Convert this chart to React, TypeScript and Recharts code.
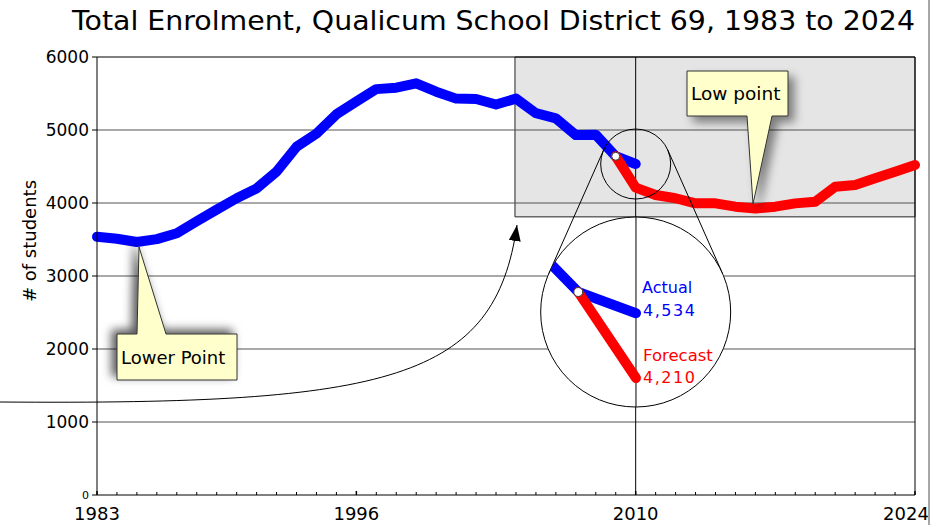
import React from "react";
import {
  ComposedChart,
  LineChart,
  Line,
  XAxis,
  YAxis,
  ReferenceLine,
  ReferenceArea,
  ReferenceDot,
} from "recharts";

// Enrolment data
const years = [
  1983, 1984, 1985, 1986, 1987, 1988, 1989, 1990, 1991, 1992, 1993, 1994, 1995, 1996,
  1997, 1998, 1999, 2000, 2001, 2002, 2003, 2004, 2005, 2006, 2007, 2008, 2009, 2010,
  2011, 2012, 2013, 2014, 2015, 2016, 2017, 2018, 2019, 2020, 2021, 2022, 2023, 2024,
];
// actual: 1983 - 2010
const actual = [
  3538, 3510, 3465, 3505, 3585, 3750, 3910, 4065, 4200, 4430, 4770, 4950, 5215, 5390,
  5560, 5580, 5640, 5525, 5430, 5425, 5350, 5430, 5230, 5160, 4930, 4935, 4640, 4534,
];
// forecast: 2009 - 2024
const forecastYears = [
  2009, 2010, 2011, 2012, 2013, 2014, 2015, 2016, 2017, 2018, 2019, 2020, 2021, 2022, 2023, 2024,
];
const forecast = [
  4640, 4210, 4110, 4065, 3995, 3995, 3950, 3925, 3950, 3995, 4018, 4224, 4247, 4338, 4429, 4520,
];
const xLabels = [1983, 1996, 2010, 2024];
const yTicks = [0, 1000, 2000, 3000, 4000, 5000, 6000];

const data = years.map((year, i) => {
  const fi = forecastYears.indexOf(year);
  return {
    year,
    actual: i < actual.length ? actual[i] : null,
    forecast: fi >= 0 ? forecast[fi] : null,
  };
});
const insetData = data.filter((d) => d.year >= 2008 && d.year <= 2010);

const FONT = "DejaVu Sans";
const W = 936;
const H = 525;
const PL = 97;
const PR = 915;
const PT = 57;
const PB = 495;
const px = (yr: number) => PL + ((yr - 1983) * (PR - PL)) / 41;
const py = (v: number) => PB - (v * (PB - PT)) / 6000;

const XTick = (props: any) => {
  const { x, y, payload } = props;
  const v = payload.value;
  const major = xLabels.includes(v);
  return (
    <g>
      <line x1={x} x2={x} y1={y} y2={y - (major ? 4 : 3)} stroke="#000" strokeWidth={major ? 1.5 : 1} />
      {major && (
        <text x={v === 2024 ? x - 9 : x} y={y + 25} textAnchor="middle" fontSize={18} fontFamily={FONT} fill="#000">
          {v}
        </text>
      )}
    </g>
  );
};

const YTick = (props: any) => {
  const { x, y, payload } = props;
  const fs = payload.value === 0 ? 11 : 17;
  return (
    <text x={x} y={y} dy={fs * 0.36} textAnchor="end" fontSize={fs} fontFamily={FONT} fill="#000">
      {payload.value}
    </text>
  );
};

const App = () => {
  // zoom circles
  const sc = { x: px(2010), y: py(actual[actual.length - 1]), r: 35 };
  const bc = { x: px(2010), y: 312, r: 95 };
  const d = bc.y - sc.y;
  const s = (bc.r - sc.r) / d;
  const c = Math.sqrt(1 - s * s);
  const tangents = [-1, 1].map((k) => ({
    x1: sc.x + k * sc.r * c,
    y1: sc.y - sc.r * s,
    x2: bc.x + k * bc.r * c,
    y2: bc.y - bc.r * s,
  }));

  return (
    <div style={{ position: "absolute", left: 0, top: 0, width: W, height: H, background: "#fff" }}>
      <ComposedChart width={W} height={H} data={data} margin={{ top: PT, right: W - PR, bottom: 0, left: PL - 60 }}>
        <ReferenceArea x1={2003.95} x2={2024} y1={3810} y2={6000} fill="#e5e5e5" fillOpacity={1} stroke="#222" strokeWidth={1} />
        {yTicks
          .filter((t) => t > 0)
          .map((t) => (
            <ReferenceLine key={t} y={t} stroke={t === 6000 ? "#000" : "#555"} strokeWidth={t === 6000 ? 1 : 1.2} />
          ))}
        <XAxis
          dataKey="year"
          type="number"
          domain={[1983, 2024]}
          ticks={years}
          interval={0}
          tickLine={false}
          tickSize={0}
          tickMargin={0}
          height={30}
          tick={<XTick />}
          stroke="#000"
        />
        <YAxis
          domain={[0, 6000]}
          ticks={yTicks}
          interval={0}
          width={60}
          tickSize={5}
          tickMargin={3}
          tick={<YTick />}
          stroke="#000"
          tickLine={{ stroke: "#000" }}
        />
        <ReferenceLine x={2010} stroke="#000" />
        <ReferenceLine x={2024} stroke="#000" />
        <Line
          dataKey="actual"
          type="linear"
          stroke="#0000ff"
          strokeWidth={10}
          strokeLinecap="round"
          strokeLinejoin="round"
          dot={false}
          isAnimationActive={false}
        />
        <Line
          dataKey="forecast"
          type="linear"
          stroke="#ff0000"
          strokeWidth={10}
          strokeLinecap="round"
          strokeLinejoin="round"
          dot={false}
          isAnimationActive={false}
        />
        <ReferenceDot x={forecastYears[0]} y={forecast[0]} r={4} fill="#fff" stroke="#333" strokeWidth={1} />
      </ComposedChart>

      <svg width={W} height={H} style={{ position: "absolute", left: 0, top: 0, pointerEvents: "none" }}>
        <defs>
          <filter id="shadowL" x="-40%" y="-40%" width="180%" height="180%">
            <feDropShadow dx={-5} dy={-4} stdDeviation={5} floodColor="#000" floodOpacity={0.65} />
          </filter>
          <filter id="shadowR" x="-40%" y="-40%" width="180%" height="180%">
            <feDropShadow dx={6} dy={6} stdDeviation={5} floodColor="#000" floodOpacity={0.45} />
          </filter>
          <marker id="arrowhead" markerUnits="userSpaceOnUse" markerWidth={16} markerHeight={12} refX={16} refY={6} orient="auto">
            <path d="M0,0 L16,6 L0,12 Z" fill="#000" />
          </marker>
        </defs>

        <text x={72} y={30} fontSize={27} fontFamily={FONT} textLength={843} lengthAdjust="spacingAndGlyphs" fill="#000">
          Total Enrolment, Qualicum School District 69, 1983 to 2024
        </text>
        <text x={0} y={0} transform="translate(36,241) rotate(-90)" textAnchor="middle" fontSize={18} fontFamily={FONT} fill="#000">
          # of students
        </text>
        <line x1={929} x2={929} y1={0} y2={H} stroke="#888" strokeWidth={1.5} />

        <path d="M0,402 C 390,405 495,380 517,225" fill="none" stroke="#000" strokeWidth={1} markerEnd="url(#arrowhead)" />

        {tangents.map((t, i) => (
          <line key={i} x1={t.x1} y1={t.y1} x2={t.x2} y2={t.y2} stroke="#000" strokeWidth={1} />
        ))}
        <circle cx={sc.x} cy={sc.y} r={sc.r} fill="none" stroke="#000" strokeWidth={1} />
        <circle cx={bc.x} cy={bc.y} r={bc.r} fill="#fff" stroke="#000" strokeWidth={1} />

        <text x={642} y={293} fontSize={16} fontFamily={FONT} fill="#0000ff">Actual</text>
        <text x={643} y={316} fontSize={16} fontFamily={FONT} fill="#0000ff" letterSpacing={1.5}>4,534</text>
        <text x={643} y={361} fontSize={16.5} fontFamily={FONT} fill="#ff0000">Forecast</text>
        <text x={643} y={383} fontSize={16} fontFamily={FONT} fill="#ff0000" letterSpacing={1.5}>4,210</text>

        <path
          d="M117,334 L137,334 L139,247 L166,334 L237,334 L237,380 L117,380 Z"
          fill="#ffffcc"
          stroke="#333"
          strokeWidth={1}
          filter="url(#shadowL)"
        />
        <text x={121} y={364} fontSize={18} fontFamily={FONT} fill="#000">Lower Point</text>

        <path
          d="M687,71 L788,71 L788,116 L772,116 L753,204 L747,116 L687,116 Z"
          fill="#ffffcc"
          stroke="#333"
          strokeWidth={1}
          filter="url(#shadowR)"
        />
        <text x={691} y={100} fontSize={18.5} fontFamily={FONT} fill="#000">Low point</text>
      </svg>

      <div
        style={{
          position: "absolute",
          left: bc.x - bc.r,
          top: bc.y - bc.r,
          width: bc.r * 2,
          height: bc.r * 2,
          clipPath: `circle(${bc.r}px at ${bc.r}px ${bc.r}px)`,
        }}
      >
        <LineChart width={190} height={190} data={insetData} margin={{ top: 0, right: 0, bottom: 0, left: 0 }}>
          <XAxis dataKey="year" type="number" domain={[2008.354, 2011.647]} allowDataOverflow hide />
          <YAxis domain={[4065, 5015]} allowDataOverflow hide />
          <ReferenceLine x={2010} stroke="#000" />
          <Line
            dataKey="actual"
            type="linear"
            stroke="#0000ff"
            strokeWidth={10}
            strokeLinecap="round"
            strokeLinejoin="round"
            dot={false}
            isAnimationActive={false}
          />
          <Line
            dataKey="forecast"
            type="linear"
            stroke="#ff0000"
            strokeWidth={10}
            strokeLinecap="round"
            strokeLinejoin="round"
            dot={false}
            isAnimationActive={false}
          />
          <ReferenceDot x={forecastYears[0]} y={forecast[0]} r={4.5} fill="#fff" stroke="#333" strokeWidth={1} />
        </LineChart>
      </div>
    </div>
  );
};

export default App;
